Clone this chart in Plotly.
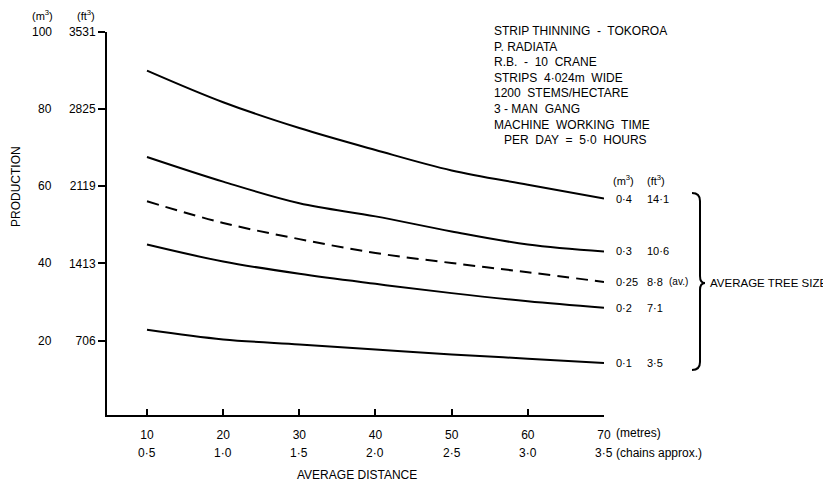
import plotly.graph_objects as go

# ---- data ----
distance_m = [10, 20, 30, 40, 50, 60, 70]
distance_chains = ["0·5", "1·0", "1·5", "2·0", "2·5", "3·0", "3·5"]
prod_04 = [90.0, 81.8, 75.1, 69.4, 64.1, 60.4, 56.8]
prod_03 = [67.6, 61.2, 55.6, 52.2, 48.3, 44.9, 43.1]
prod_025 = [56.1, 50.5, 46.3, 42.7, 40.1, 37.7, 35.2]
prod_02 = [44.9, 40.5, 37.3, 34.7, 32.3, 30.2, 28.5]
prod_01 = [22.8, 20.3, 19.0, 17.7, 16.4, 15.3, 14.2]
y_ticks_m3 = [20, 40, 60, 80, 100]
y_ticks_ft3 = ["706", "1413", "2119", "2825", "3531"]
series = [
    (prod_04, "0·4", "14·1", "", "solid"),
    (prod_03, "0·3", "10·6", "", "solid"),
    (prod_025, "0·25", "8·8", "(av.)", "12px,7px"),
    (prod_02, "0·2", "7·1", "", "solid"),
    (prod_01, "0·1", "3·5", "", "solid"),
]

OFF = 8  # default page body margin
W, H = 831 - OFF, 484 - OFF
L, R_px, T, B_px = 107, 604, 32, 415  # in reference-window pixels
FONT = "Liberation Sans, Arial, sans-serif"


def px(xp):
    return (xp - L) / (R_px - L)


def py(yp):
    return (B_px - yp) / (B_px - T)


fig = go.Figure()
for vals, m3, ft3, extra, dash in series:
    fig.add_trace(go.Scatter(x=distance_m, y=vals, mode="lines",
                             line=dict(color="black", width=2, dash=dash, shape="spline"),
                             showlegend=False, hoverinfo="skip", cliponaxis=False))

ann = []


def note(**kw):
    kw.setdefault("xanchor", "center")
    kw.setdefault("yanchor", "middle")
    kw.setdefault("showarrow", False)
    ann.append(kw)


# right labels
for vals, m3, ft3, extra, dash in series:
    note(x=distance_m[-1], y=vals[-1], xref="x", yref="y", text=m3,
         xanchor="left", xshift=10, font=dict(size=11))
    note(x=distance_m[-1], y=vals[-1], xref="x", yref="y", text=ft3,
         xanchor="left", xshift=41, font=dict(size=11))
    if extra:
        note(x=distance_m[-1], y=vals[-1], xref="x", yref="y", text=extra,
             xanchor="left", xshift=63, font=dict(size=10))
note(x=distance_m[-1], y=prod_04[-1], xref="x", yref="y", text="(m<sup>3</sup>)",
     xanchor="left", xshift=7, yshift=19, font=dict(size=11))
note(x=distance_m[-1], y=prod_04[-1], xref="x", yref="y", text="(ft<sup>3</sup>)",
     xanchor="left", xshift=41, yshift=19, font=dict(size=11))

# m3 tick labels (left column)
for v in y_ticks_m3:
    note(x=px(54), y=v, xref="paper", yref="y", text=str(v), xanchor="right", font=dict(size=12))
note(x=px(42), y=py(15), xref="paper", yref="paper", text="(m<sup>3</sup>)", font=dict(size=11))
note(x=px(86), y=py(15), xref="paper", yref="paper", text="(ft<sup>3</sup>)", font=dict(size=11))

# chains row
for xv, c in zip(distance_m, distance_chains):
    note(x=xv, y=py(453), xref="x", yref="paper", text=c, font=dict(size=12))
note(x=distance_m[-1], y=py(433), xref="x", yref="paper", text="(metres)",
     xanchor="left", xshift=10, font=dict(size=12))
note(x=distance_m[-1], y=py(453), xref="x", yref="paper", text="(chains approx.)",
     xanchor="left", xshift=10, font=dict(size=12))
note(x=px(357), y=py(475), xref="paper", yref="paper", text="AVERAGE DISTANCE", font=dict(size=12))
note(x=px(16), y=py(187), xref="paper", yref="paper", text="PRODUCTION", textangle=-90, font=dict(size=12))

# info block
info = ("STRIP THINNING  -  TOKOROA<br>P. RADIATA<br>R.B.  -  10  CRANE<br>STRIPS  4·024m  WIDE<br>"
        "1200  STEMS/HECTARE<br>3 - MAN  GANG<br>MACHINE  WORKING  TIME<br>"
        "&nbsp;&nbsp;&nbsp;PER  DAY  =  5·0  HOURS")
note(x=px(492), y=py(22), xref="paper", yref="paper", text=info,
     xanchor="left", yanchor="top", align="left", font=dict(size=12))
note(x=px(708), y=py(283), xref="paper", yref="paper", text="AVERAGE TREE SIZE",
     xanchor="left", font=dict(size=11.5))

# brace
x0, x1, xt = px(692), px(700), px(705)
ya, yb, ym, yc, yd = py(193), py(201), py(283), py(362), py(370)
ym1, ym2 = py(276), py(290)
brace = (f"M {x0},{ya} Q {x1},{ya} {x1},{yb} L {x1},{ym1} Q {x1},{ym} {xt},{ym} "
         f"Q {x1},{ym} {x1},{ym2} L {x1},{yc} Q {x1},{yd} {x0},{yd}")

fig.update_layout(
    width=W, height=H,
    margin=dict(l=L - OFF, r=831 - R_px, t=T - OFF, b=484 - B_px, autoexpand=False),
    paper_bgcolor="white", plot_bgcolor="white",
    font=dict(family=FONT, color="black", size=12),
    annotations=ann,
    shapes=[dict(type="path", path=brace, xref="paper", yref="paper",
                 line=dict(color="black", width=2))],
    xaxis=dict(range=[4.75, 70], showgrid=False, zeroline=False, showline=True, linecolor="black",
               linewidth=2, ticks="inside", ticklen=6, tickwidth=1.5, tickcolor="black",
               tickvals=distance_m, ticktext=[str(v) for v in distance_m], automargin=False,
               ticklabelstandoff=8, tickfont=dict(size=12), fixedrange=True),
    yaxis=dict(range=[0.7, 100], showgrid=False, zeroline=False, showline=True, linecolor="black",
               linewidth=2, ticks="outside", ticklen=7, tickwidth=1.5, tickcolor="black", automargin=False,
               tickvals=y_ticks_m3, ticktext=y_ticks_ft3, tickfont=dict(size=12), fixedrange=True),
)

fig.write_html("out.html")
